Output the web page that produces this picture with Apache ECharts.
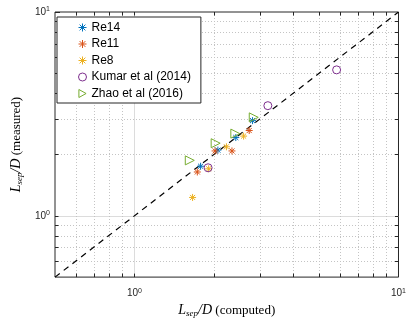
<!DOCTYPE html>
<html><head><meta charset="utf-8">
<script src="https://cdn.jsdelivr.net/npm/echarts@6/dist/echarts.min.js"></script>
<style>html,body{margin:0;padding:0;background:#fff}#c{width:409px;height:323px}</style>
</head><body><div id="c"></div>
<script>
// ---- data ----
const re14X = [2.80, 2.42, 2.07, 1.78];
const re14Y = [2.93, 2.42, 2.10, 1.75];
const re11X = [2.72, 2.02, 2.34, 1.73];
const re11Y = [2.62, 2.08, 2.08, 1.64];
const re8X  = [2.59, 2.23, 1.91, 1.66];
const re8Y  = [2.46, 2.18, 1.70, 1.23];
const kumarX = [1.90, 3.20, 5.83];
const kumarY = [1.72, 3.47, 5.20];
const zhaoX = [1.62, 2.03, 2.41, 2.83];
const zhaoY = [1.87, 2.27, 2.53, 3.04];
const diagX = [0.5, 10];
const diagY = [0.5, 10];
const axisMin = 0.5, axisMax = 10;
const majorTicks = [1, 10];
const minorTicks = [0.6, 0.7, 0.8, 0.9, 2, 3, 4, 5, 6, 7, 8, 9];
const seriesNames = ['Re14', 'Re11', 'Re8', 'Kumar et al (2014)', 'Zhao et al (2016)'];

const pair = (xs, ys) => xs.map((x, i) => [x, ys[i]]);
const AX = '#262626';
const asterisk = 'path://M0,-5L0,5M-5,0L5,0M-3.6,-3.6L3.6,3.6M-3.6,3.6L3.6,-3.6';
const triRight = 'path://M0,0L9,5L0,10Z';

function gridRender(params, api) {
  const cs = params.coordSys;
  const v = api.value(0);
  const major = majorTicks.indexOf(v) >= 0;
  const px = api.coord([v, axisMin])[0];
  const py = api.coord([axisMin, v])[1];
  const style = major ? {stroke: '#dcdcdc', lineWidth: 1} : {stroke: '#c4c4c4', lineWidth: 1, lineDash: [1, 2]};
  const tl = 3.5;
  const tick = {stroke: AX, lineWidth: 1};
  const children = [];
  if (v > axisMin && v < axisMax) {
    const x = Math.round(px) + 0.5, y = Math.round(py) + 0.5;
    children.push({type: 'line', shape: {x1: x, y1: cs.y, x2: x, y2: cs.y + cs.height}, style: style});
    children.push({type: 'line', shape: {x1: cs.x, y1: y, x2: cs.x + cs.width, y2: y}, style: style});
    children.push({type: 'line', shape: {x1: x, y1: cs.y + cs.height, x2: x, y2: cs.y + cs.height - tl}, style: tick});
    children.push({type: 'line', shape: {x1: x, y1: cs.y, x2: x, y2: cs.y + tl}, style: tick});
    children.push({type: 'line', shape: {x1: cs.x, y1: y, x2: cs.x + tl, y2: y}, style: tick});
    children.push({type: 'line', shape: {x1: cs.x + cs.width, y1: y, x2: cs.x + cs.width - tl, y2: y}, style: tick});
  }
  return {type: 'group', children: children};
}

const tickFmt = v => {
  const e = Math.round(Math.log10(v));
  if (Math.abs(Math.pow(10, e) - v) > 1e-9) return '';
  return '{b|10}{s|' + e + '}';
};
const tickRich = {
  b: {fontFamily: 'Liberation Sans', fontSize: 10, color: AX},
  s: {fontFamily: 'Liberation Sans', fontSize: 7, color: AX, padding: [0, 0, 6, 0]}
};
const nameRich = {
  i: {fontFamily: 'Liberation Serif', fontStyle: 'italic', fontSize: 14, color: '#000'},
  sub: {fontFamily: 'Liberation Serif', fontStyle: 'italic', fontSize: 9, color: '#000', padding: [6, 0, 0, 0]},
  r: {fontFamily: 'Liberation Serif', fontSize: 13, color: '#000'}
};

const chart = echarts.init(document.getElementById('c'), null, {renderer: 'canvas'});
const mk = (name, xs, ys, symbol, size, color, fill) => ({
  name: name, type: 'scatter', data: pair(xs, ys), symbol: symbol, symbolSize: size,
  itemStyle: {color: fill, borderColor: color, borderWidth: 1, opacity: 1},
  emphasis: {disabled: true}, z: 5
});
chart.setOption({
  animation: false,
  grid: {left: 55, right: 8, top: 12, bottom: 41, show: true, borderColor: AX, borderWidth: 1, backgroundColor: '#fff'},
  legend: {
    data: seriesNames, orient: 'vertical', left: 57, top: 17,
    backgroundColor: '#fff', borderColor: AX, borderWidth: 1, borderRadius: 0,
    padding: [4, 10, 3, 19], itemGap: 3.5, itemWidth: 8, itemHeight: 8,
    textStyle: {fontFamily: 'Liberation Sans', fontSize: 12, color: '#000', padding: [0, 0, 0, 0]},
    itemStyle: {borderWidth: 1}
  },
  xAxis: {
    type: 'log', logBase: 10, min: axisMin, max: axisMax,
    axisLine: {show: false}, axisTick: {show: true, inside: true, length: 5, lineStyle: {color: AX}},
    splitLine: {show: false},
    axisLabel: {formatter: tickFmt, rich: tickRich, margin: 10, showMinLabel: false},
    name: '{i|L}{sub|sep}{i|/D}{r| (computed)}', nameLocation: 'middle', nameGap: 24,
    nameTextStyle: {rich: nameRich}
  },
  yAxis: {
    type: 'log', logBase: 10, min: axisMin, max: axisMax,
    axisLine: {show: false}, axisTick: {show: true, inside: true, length: 5, lineStyle: {color: AX}},
    splitLine: {show: false},
    axisLabel: {formatter: tickFmt, rich: tickRich, margin: 5, showMinLabel: false},
    name: '{i|L}{sub|sep}{i|/D}{r| (measured)}', nameLocation: 'middle', nameGap: 13, nameRotate: 90,
    nameTextStyle: {rich: nameRich}
  },
  series: [
    {type: 'custom', renderItem: gridRender, data: majorTicks.concat(minorTicks).map(v => [v]), z: 1, silent: true, clip: false},
    {type: 'line', data: pair(diagX, diagY), symbol: 'none', lineStyle: {color: '#000', width: 1.2, type: [6, 5]}, z: 3, silent: true},
    mk(seriesNames[0], re14X, re14Y, asterisk, 7, '#0072BD', 'none'),
    mk(seriesNames[1], re11X, re11Y, asterisk, 7, '#D95319', 'none'),
    mk(seriesNames[2], re8X, re8Y, asterisk, 7, '#EDB120', 'none'),
    mk(seriesNames[3], kumarX, kumarY, 'circle', 8, '#7E2F8E', 'none'),
    mk(seriesNames[4], zhaoX, zhaoY, triRight, 9, '#77AC30', 'none')
  ]
});
</script></body></html>
